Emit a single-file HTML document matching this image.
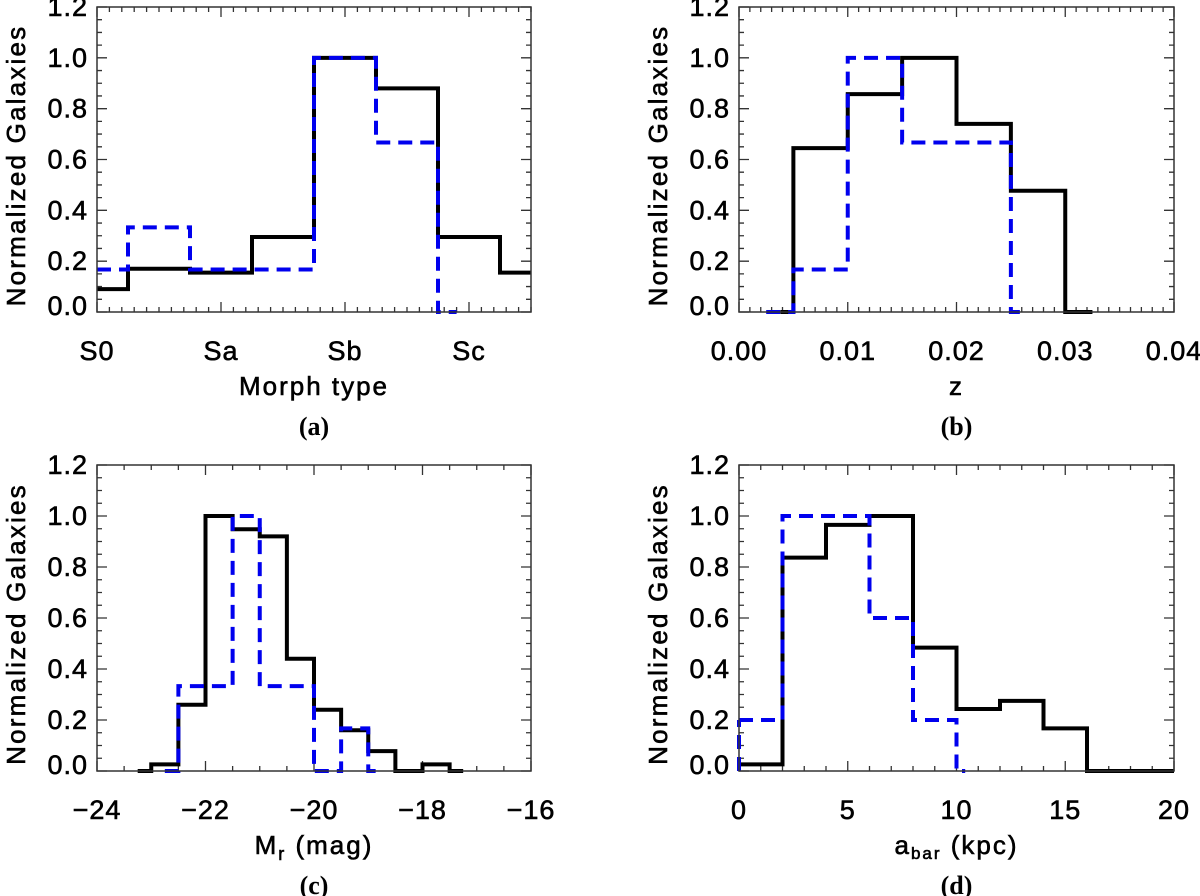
<!DOCTYPE html>
<html><head><meta charset="utf-8">
<style>
html,body{margin:0;padding:0;background:#fff;}
svg{display:block;}
text{font-family:"Liberation Sans","DejaVu Sans",sans-serif;fill:#000;stroke:#000;stroke-width:0.6;}
.cap{font-family:"Liberation Serif",serif;font-weight:bold;font-size:26px;stroke-width:0;}
</style></head>
<body>
<svg id="fig" width="1200" height="896" viewBox="0 0 1200 896" xmlns="http://www.w3.org/2000/svg"></svg>
<script>
// Panel (a) morph type
const aEdgesBlack = [0, 0.25, 0.75, 1.25, 1.75, 2.25, 2.75, 3.25, 3.5];
const aValsBlack = [0.09, 0.17, 0.155, 0.295, 1.0, 0.88, 0.295, 0.155];
const aEdgesBlue = [0, 0.25, 0.75, 1.25, 1.75, 2.25, 2.75, 2.9];
const aValsBlue = [0.167, 0.333, 0.167, 0.167, 1.0, 0.667, 0.0];
const aTickVals = [0, 1, 2, 3];
const aTickLabels = ["S0", "Sa", "Sb", "Sc"];
// Panel (b) redshift
const bEdgesBlack = [0.0038, 0.005, 0.01, 0.015, 0.02, 0.025, 0.03, 0.0325];
const bValsBlack = [0.0, 0.645, 0.857, 1.0, 0.74, 0.477, 0.0];
const bEdgesBlue = [0.0025, 0.005, 0.01, 0.015, 0.025, 0.0262];
const bValsBlue = [0.0, 0.167, 1.0, 0.667, 0.0];
const bTickVals = [0, 0.01, 0.02, 0.03, 0.04];
const bTickLabels = ["0.00", "0.01", "0.02", "0.03", "0.04"];
// Panel (c) Mr
const cEdgesBlack = [-23.25, -23, -22.5, -22, -21.5, -21, -20.5, -20, -19.5, -19, -18.5, -18, -17.5, -17.25];
const cValsBlack = [0.0, 0.026, 0.26, 1.0, 0.948, 0.92, 0.44, 0.24, 0.16, 0.078, 0.0, 0.026, 0.0];
const cEdgesBlue = [-22.75, -22.5, -21.5, -21, -20, -19.5, -19, -18.75];
const cValsBlue = [0.0, 0.333, 1.0, 0.333, 0.0, 0.167, 0.0];
const cTickVals = [-24, -22, -20, -18, -16];
const cTickLabels = ["\u221224", "\u221222", "\u221220", "\u221218", "\u221216"];
// Panel (d) bar length
const dEdgesBlack = [0, 2, 4, 6, 8, 10, 12, 14, 16, 20];
const dValsBlack = [0.026, 0.837, 0.965, 1.0, 0.484, 0.243, 0.275, 0.167, 0.0];
const dEdgesBlue = [0, 2, 6, 8, 10, 10.4];
const dValsBlue = [0.2, 1.0, 0.6, 0.2, 0.0];
const dTickVals = [0, 5, 10, 15, 20];
const dTickLabels = ["0", "5", "10", "15", "20"];
const yTickVals = [0, 0.2, 0.4, 0.6, 0.8, 1.0, 1.2];
const yTickLabels = ["0.0", "0.2", "0.4", "0.6", "0.8", "1.0", "1.2"];

const NS = "http://www.w3.org/2000/svg";
const svg = document.getElementById("fig");
function mk(tag, attrs, parent) {
  const e = document.createElementNS(NS, tag);
  for (const k in attrs) e.setAttribute(k, attrs[k]);
  (parent || svg).appendChild(e);
  return e;
}

function panel(p) {
  const g = mk("g", {});
  
  
  const xs = v => p.x0 + (v - p.xmin) / (p.xmax - p.xmin) * (p.x1 - p.x0);
  const ys = v => p.y1 - (v - 0) / 1.2 * (p.y1 - p.y0);
  let tk = "";
  for (let v = 0; v <= 1.2001; v += 0.05) {
    const major = Math.abs(v / 0.2 - Math.round(v / 0.2)) < 1e-6;
    const L = major ? 10 : 5, y = ys(v);
    tk += `M${p.x0} ${y}h${L}M${p.x1} ${y}h${-L}`;
  }
  for (let v = p.xmin; v <= p.xmax + 1e-9; v += p.minor) {
    const major = p.ticks.some(t => Math.abs(t - v) < p.minor / 3);
    const L = major ? 10 : 5, x = xs(v);
    tk += `M${x} ${p.y1}v${-L}M${x} ${p.y0}v${L}`;
  }
  const ticks = mk("path", {d: tk, stroke: "#333", "stroke-width": 1.3, fill: "none"}, g);
  
  
  function step(edges, vals, color, dash, name) {
    let d = `M${xs(edges[0])} ${ys(vals[0])}`;
    for (let i = 0; i < vals.length; i++) {
      if (i > 0) d += `L${xs(edges[i])} ${ys(vals[i])}`;
      d += `L${xs(edges[i + 1])} ${ys(vals[i])}`;
    }
    const a = {d: d, stroke: color, "stroke-width": 4, fill: "none", "stroke-linejoin": "miter"};
    if (dash) a["stroke-dasharray"] = "14 8";
    const e = mk("path", a, g);
    
    
  }
  step(p.eb, p.vb, "#000", false, "histogram-full-sample");
  if (p.blueStart) {
    const e = mk("path", {d: `M${xs(p.eB[0])} ${ys(0)}V${ys(p.vB[0])}`, stroke: "#0000ee", "stroke-width": 4, "stroke-dasharray": "14 8", fill: "none"}, g);
    
    
  }
  step(p.eB, p.vB, "#0000ee", true, "histogram-subsample");
  const box = mk("rect", {x: p.x0, y: p.y0, width: p.x1 - p.x0, height: p.y1 - p.y0, fill: "none", stroke: "#333", "stroke-width": 1.5}, g);
  
  
  yTickVals.forEach((v, i) => {
    const t = mk("text", {x: p.x0 - 9, y: ys(v) + 9 - (i === 0 ? 6 : 0), "text-anchor": "end", "font-size": 27, "letter-spacing": "1"}, g);
    t.textContent = yTickLabels[i];
    
    
  });
  p.ticks.forEach((v, i) => {
    const t = mk("text", {x: xs(v), y: p.y1 + 48, "text-anchor": "middle", "font-size": 27, "letter-spacing": "1"}, g);
    t.textContent = p.labels[i];
    
    
  });
  const cy = (p.y0 + p.y1) / 2 + 6;
  const yl = mk("text", {x: p.ylx, y: cy, "text-anchor": "middle", "font-size": 26, transform: `rotate(-90 ${p.ylx} ${cy})`, "letter-spacing": "2.2"}, g);
  yl.textContent = "Normalized  Galaxies";
  
  
  const xt = mk("text", {x: (p.x0 + p.x1) / 2, y: p.y1 + 83, "text-anchor": "middle", "font-size": 26, "letter-spacing": "2"}, g);
  xt.innerHTML = p.xtitle;
  
  
  const cap = mk("text", {x: (p.x0 + p.x1) / 2, y: p.y1 + 123, "text-anchor": "middle", class: "cap"}, g);
  cap.textContent = "(" + p.id + ")";
  
  
}

panel({id: "a", x0: 97, x1: 531, y0: 7, y1: 312, xmin: 0, xmax: 3.5, minor: 0.1, ticks: aTickVals, labels: aTickLabels,
  eb: aEdgesBlack, vb: aValsBlack, eB: aEdgesBlue, vB: aValsBlue, ylx: 25, xtitle: "Morph type"});
panel({id: "b", x0: 739, x1: 1174, y0: 7, y1: 312, xmin: 0, xmax: 0.04, minor: 0.001, ticks: bTickVals, labels: bTickLabels,
  eb: bEdgesBlack, vb: bValsBlack, eB: bEdgesBlue, vB: bValsBlue, ylx: 667, xtitle: "z"});
panel({id: "c", x0: 97, x1: 531, y0: 465, y1: 771, xmin: -24, xmax: -16, minor: 0.5, ticks: cTickVals, labels: cTickLabels,
  eb: cEdgesBlack, vb: cValsBlack, eB: cEdgesBlue, vB: cValsBlue, ylx: 25, xtitle: 'M<tspan font-size="18" dy="6">r</tspan><tspan dy="-6"> (mag)</tspan>'});
panel({id: "d", x0: 739, x1: 1174, y0: 465, y1: 771, xmin: 0, xmax: 20, minor: 1, ticks: dTickVals, labels: dTickLabels,
  eb: dEdgesBlack, vb: dValsBlack, eB: dEdgesBlue, vB: dValsBlue, ylx: 667, blueStart: true,
  xtitle: 'a<tspan font-size="17" dy="5">bar</tspan><tspan dy="-5"> (kpc)</tspan>'});
</script>
</body></html>
